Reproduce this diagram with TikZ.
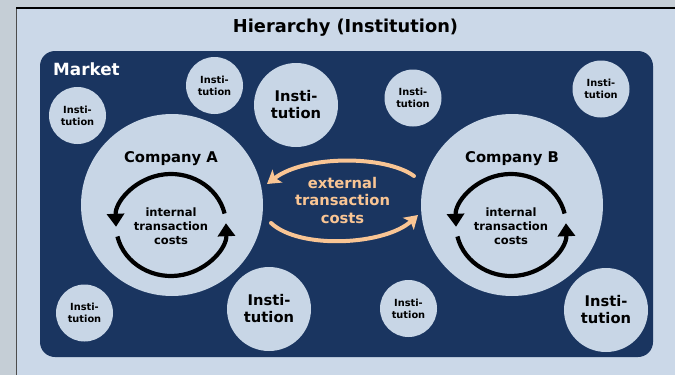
\documentclass[tikz,border=0pt]{standalone}
\usepackage{fontspec}
\setmainfont{DejaVu Sans}
\usetikzlibrary{arrows.meta,calc}
\definecolor{navy}{HTML}{1A3560}
\definecolor{lightc}{HTML}{C8D6E6}
\definecolor{panel}{HTML}{CBD8E8}
\definecolor{strip}{HTML}{C5CED6}
\definecolor{peach}{HTML}{F9C594}
\begin{document}
\begin{tikzpicture}[x=1pt,y=-1pt,
  inst/.style={circle, fill=lightc, inner sep=0pt, align=center, text=black},
  smallinst/.style={inst, minimum size=57pt, font=\fontsize{9.8}{11.7}\selectfont\bfseries},
  largeinst/.style={inst, minimum size=84pt, font=\fontsize{14.7}{17}\selectfont\bfseries},
  comp/.style={circle, fill=lightc, minimum size=182pt, inner sep=0pt},
  complabel/.style={font=\fontsize{14.8}{17}\selectfont\bfseries, inner sep=0pt, anchor=base},
  intlabel/.style={align=center, font=\fontsize{11.5}{14}\selectfont\bfseries, inner sep=0pt},
  extlabel/.style={align=center, text=peach, font=\fontsize{14.75}{17.5}\selectfont\bfseries, inner sep=0pt},
  intarr/.style={draw=black, line width=4.2pt, -{Triangle[length=13pt,width=17pt]}},
  extarr/.style={draw=peach, line width=4pt, line cap=round, -{Stealth[length=13pt,width=16pt,inset=3pt]}}
]
\useasboundingbox (0,0) rectangle (675,375);
% background
\fill[strip] (0,0) rectangle (675,375);
\fill[panel] (16.5,8) rectangle (675,375);
\draw[gray!60!black, line width=0.8pt] (16.5,8) -- (16.5,375);
\draw[line width=2.5pt] (16,8) -- (675,8);
% title
\node[font=\fontsize{17.8}{20}\selectfont\bfseries, inner sep=0pt, anchor=base] (title) at (345.5,32) {Hierarchy (Institution)};
% market
\node[fill=navy, rounded corners=15pt, minimum width=613pt, minimum height=306pt, inner sep=0pt] (market) at (346.5,204) {};
\node[font=\fontsize{16.8}{19}\selectfont\bfseries, text=white, inner sep=0pt, anchor=base west] (marketlabel) at (53,75) {Market};
% institutions
\node[smallinst] (i1) at (77.5,115.5) {Insti-\\tution};
\node[smallinst] (i2) at (214.5,85.5) {Insti-\\tution};
\node[largeinst] (i3) at (296,105) {Insti-\\tution};
\node[smallinst] (i4) at (413,98) {Insti-\\tution};
\node[smallinst] (i5) at (601,89) {Insti-\\tution};
\node[smallinst] (i6) at (84.5,313) {Insti-\\tution};
\node[largeinst] (i7) at (269,309) {Insti-\\tution};
\node[smallinst] (i8) at (408.5,308.5) {Insti-\\tution};
\node[largeinst] (i9) at (606,310) {Insti-\\tution};
% companies
\node[comp] (compA) at (172,205) {};
\node[comp] (compB) at (512,205) {};
\node[complabel] (labA) at (171,162.5) {Company A};
\node[complabel] (labB) at (512,162.5) {Company B};
\node[intlabel] (intA) at (171,226) {internal\\transaction\\costs};
\node[intlabel] (intB) at (511,226) {internal\\transaction\\costs};
% internal cycles
\draw[intarr] (171,225) ++(-13:55 and 51) arc[start angle=-13, end angle=-182, x radius=55, y radius=51];
\draw[intarr] (171,225) ++(167:55 and 51) arc[start angle=167, end angle=-2, x radius=55, y radius=51];
\draw[intarr] (511,225) ++(-13:55 and 51) arc[start angle=-13, end angle=-182, x radius=55, y radius=51];
\draw[intarr] (511,225) ++(167:55 and 51) arc[start angle=167, end angle=-2, x radius=55, y radius=51];
% external
\node[extlabel] (ext) at (342.5,200) {external\\transaction\\costs};
\coordinate (ea1) at (414,176);
\coordinate (ea2) at (267,184);
\coordinate (eb1) at (271,223);
\coordinate (eb2) at (418,215);
\draw[extarr] (ea1) .. controls (385,155) and (305,155) .. (ea2);
\draw[extarr] (eb1) .. controls (300,250) and (385,245) .. (eb2);
\end{tikzpicture}
\end{document}
